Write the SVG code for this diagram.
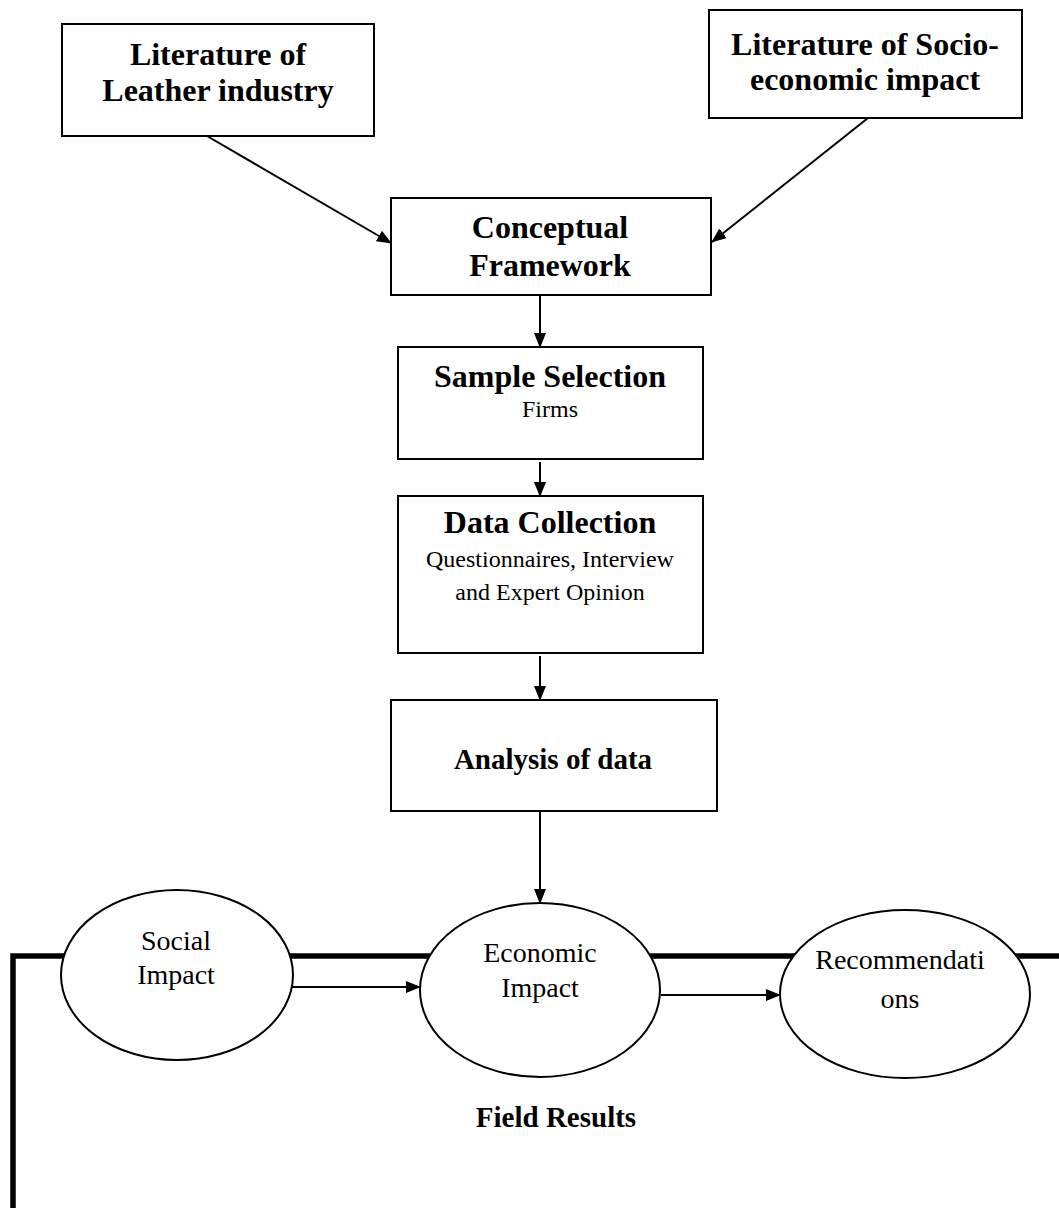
<svg xmlns="http://www.w3.org/2000/svg" width="1059" height="1208" viewBox="0 0 1059 1208">
<style>
.box{fill:#fff;stroke:#000;stroke-width:2}
.ell{fill:#fff;stroke:#000;stroke-width:2}
.b{font-family:"Liberation Serif","Times New Roman",serif;font-weight:bold;font-size:32px;fill:#000;text-anchor:middle}
.r{font-family:"Liberation Serif","Times New Roman",serif;font-size:24px;fill:#000;text-anchor:middle}
.e{font-family:"Liberation Serif","Times New Roman",serif;font-size:28px;fill:#000;text-anchor:middle}
.ln{stroke:#000;stroke-width:2;fill:none}
</style>
<defs>
<marker id="ah" markerWidth="15" markerHeight="12" refX="14" refY="6" orient="auto" markerUnits="userSpaceOnUse">
<path d="M0,0 L15,6 L0,12 Z" fill="#000"/>
</marker>
</defs>
<g id="frame">
<path d="M13,1208 L13,956 L1059,956" fill="none" stroke="#000" stroke-width="5.5"/>
</g>
<g id="connectors">
<line class="ln" x1="207" y1="136" x2="391" y2="243" marker-end="url(#ah)"/>
<line class="ln" x1="868" y1="118" x2="712" y2="242" marker-end="url(#ah)"/>
<line class="ln" x1="540" y1="296" x2="540" y2="347" marker-end="url(#ah)"/>
<line class="ln" x1="540" y1="462" x2="540" y2="496" marker-end="url(#ah)"/>
<line class="ln" x1="540" y1="656" x2="540" y2="700" marker-end="url(#ah)"/>
<line class="ln" x1="540" y1="812" x2="540" y2="903" marker-end="url(#ah)"/>
<line class="ln" x1="292" y1="987" x2="420" y2="987" marker-end="url(#ah)"/>
<line class="ln" x1="661" y1="995" x2="780" y2="995" marker-end="url(#ah)"/>
</g>
<g id="lit-leather">
<rect class="box" x="62" y="24" width="312" height="112"/>
<text class="b" x="218" y="65">Literature of</text>
<text class="b" x="218" y="101">Leather industry</text>
</g>
<g id="lit-socio">
<rect class="box" x="709" y="10" width="313" height="108"/>
<text class="b" x="865" y="55">Literature of Socio-</text>
<text class="b" x="865" y="90">economic impact</text>
</g>
<g id="conceptual">
<rect class="box" x="391" y="198" width="320" height="97"/>
<text class="b" x="550" y="238">Conceptual</text>
<text class="b" x="550" y="276">Framework</text>
</g>
<g id="sample">
<rect class="box" x="398" y="347" width="305" height="112"/>
<text class="b" x="550" y="387">Sample Selection</text>
<text class="r" x="550" y="417">Firms</text>
</g>
<g id="data">
<rect class="box" x="398" y="496" width="305" height="157"/>
<text class="b" x="550" y="533">Data Collection</text>
<text class="r" x="550" y="567">Questionnaires, Interview</text>
<text class="r" x="550" y="600">and Expert Opinion</text>
</g>
<g id="analysis">
<rect class="box" x="391" y="700" width="326" height="111"/>
<text class="b" x="553" y="769" style="font-size:29px">Analysis of data</text>
</g>
<g id="social">
<ellipse class="ell" cx="177" cy="975" rx="116" ry="85"/>
<text class="e" x="176" y="950">Social</text>
<text class="e" x="176" y="984">Impact</text>
</g>
<g id="economic">
<ellipse class="ell" cx="540" cy="990" rx="120" ry="87"/>
<text class="e" x="540" y="962">Economic</text>
<text class="e" x="540" y="997">Impact</text>
</g>
<g id="recommendations">
<ellipse class="ell" cx="905" cy="994" rx="125" ry="84"/>
<text class="e" x="900" y="969">Recommendati</text>
<text class="e" x="900" y="1008">ons</text>
</g>
<g id="field-results">
<text class="b" x="556" y="1127" style="font-size:29px">Field Results</text>
</g>
</svg>
